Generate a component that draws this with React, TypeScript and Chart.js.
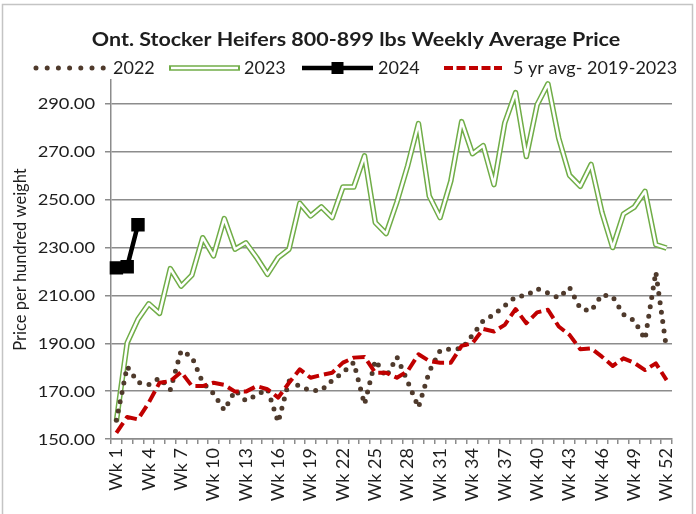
import React, { useEffect, useRef } from 'react';
import { Chart, registerables } from 'chart.js';

Chart.register(...registerables);

const weeks = [
  'Wk 1', 'Wk 2', 'Wk 3', 'Wk 4', 'Wk 5', 'Wk 6', 'Wk 7', 'Wk 8', 'Wk 9', 'Wk 10',
  'Wk 11', 'Wk 12', 'Wk 13', 'Wk 14', 'Wk 15', 'Wk 16', 'Wk 17', 'Wk 18', 'Wk 19', 'Wk 20',
  'Wk 21', 'Wk 22', 'Wk 23', 'Wk 24', 'Wk 25', 'Wk 26', 'Wk 27', 'Wk 28', 'Wk 29', 'Wk 30',
  'Wk 31', 'Wk 32', 'Wk 33', 'Wk 34', 'Wk 35', 'Wk 36', 'Wk 37', 'Wk 38', 'Wk 39', 'Wk 40',
  'Wk 41', 'Wk 42', 'Wk 43', 'Wk 44', 'Wk 45', 'Wk 46', 'Wk 47', 'Wk 48', 'Wk 49', 'Wk 50',
  'Wk 51', 'Wk 52',
];

const prices2022 = [
  157.8, 180.3, 173.6, 172.7, 175.5, 170.6, 186.9, 184.4, 173.6, 169,
  162, 170.3, 166, 168.3, 171, 157, 174.3, 172, 170.2, 170.3,
  174.5, 177.8, 182, 164.5, 182.8, 175.9, 184.3, 174, 163.2, 178.2,
  186.9, 187.7, 187.7, 193.4, 199.4, 202, 205.7, 209.4, 210, 212.8,
  211, 209, 213.3, 204.5, 203.5, 210.3, 209.5, 202, 199.5, 191.6,
  219.8, 187.4,
];

const prices2023 = [
  157.5, 190.2, 200, 206.5, 202.5, 221.2, 213.9, 218.5, 234.1, 226.5,
  242.1, 229.3, 232, 225.8, 218.8, 225.8, 229.3, 248.5, 243.2, 247,
  242.5, 255.3, 255.3, 268.3, 240.4, 235.8, 249, 264.2, 281.8, 251.5,
  242.5, 257.8, 282.6, 269.2, 272.6, 256.3, 282.1, 294.7, 268, 289.7,
  298.4, 275.7, 260.2, 255.6, 264.7, 244.8, 230, 244, 246.9, 253.5,
  231.2, 229.8,
];

const prices2024 = [221.5, 222, 239.5];

const avg5yr = [
  152.6, 159.2, 158.2, 165.2, 173.5, 174.2, 178, 172.1, 172.1, 173.5,
  172.6, 169.8, 169.8, 172.1, 170.8, 167.3, 173.5, 179.1, 175.6, 176.7,
  177.7, 181.9, 184, 184.3, 177.7, 177.7, 175.6, 178.4, 185.4, 182.6,
  181.9, 181.9, 188.9, 190, 196, 194.9, 197.7, 204.3, 198.4, 202.9,
  204, 197, 193.5, 187.5, 187.9, 184.4, 180.5, 183.7, 181.8, 178.8,
  181.6, 174.6,
];

const yTickValues = [150, 170, 190, 210, 230, 250, 270, 290];
const yTickLabels = ['150.00', '170.00', '190.00', '210.00', '230.00', '250.00', '270.00', '290.00'];

const seriesNames = ['2022', '2023', '2024', '5 yr avg- 2019-2023'];
const chartTitle = 'Ont. Stocker Heifers 800-899 lbs Weekly Average Price';
const yAxisTitle = 'Price per hundred weight';
const yMin = 150;
const yMax = 300;

const FONT = 'Lato, "Noto Sans", sans-serif';
const TEXT = '#1e1e1e';
const GRID = '#8c8c8c';
const BROWN = '#4f3a2c';
const GREEN = '#70ad47';
const RED = '#c00000';

const decorPlugin = {
  id: 'decor',
  afterDraw(chart: any) {
    const ctx = chart.ctx as CanvasRenderingContext2D;
    ctx.save();
    // outer border
    ctx.strokeStyle = '#c4c4c4';
    ctx.lineWidth = 1.5;
    ctx.setLineDash([]);
    ctx.strokeRect(2.5, 4.5, 690, 520);

    // y tick labels (slightly wide, as in the reference)
    const ys = chart.scales.y;
    ctx.fillStyle = TEXT;
    ctx.font = `15.5px ${FONT}`;
    ctx.textAlign = 'right';
    ctx.textBaseline = 'middle';
    yTickValues.forEach((v, i) => {
      const py = ys.getPixelForValue(v);
      ctx.save();
      ctx.translate(95, py + 0.5);
      ctx.scale(1.18, 1);
      ctx.fillText(yTickLabels[i], 0, 0);
      ctx.restore();
    });

    // title
    ctx.font = `bold 19px ${FONT}`;
    ctx.textAlign = 'center';
    ctx.save();
    ctx.translate(356, 40);
    ctx.scale(1.13, 1);
    ctx.fillText(chartTitle, 0, 0);
    ctx.restore();

    // legend
    const ly = 68;
    ctx.font = `18px ${FONT}`;
    ctx.textAlign = 'left';
    ctx.lineJoin = 'round';

    // 2022 dotted
    ctx.strokeStyle = BROWN;
    ctx.lineWidth = 5;
    ctx.lineCap = 'round';
    ctx.setLineDash([0, 11.2]);
    ctx.beginPath();
    ctx.moveTo(36, ly);
    ctx.lineTo(104, ly);
    ctx.stroke();
    ctx.setLineDash([]);
    ctx.fillText(seriesNames[0], 113, ly);

    // 2023 double line
    ctx.lineCap = 'butt';
    ctx.strokeStyle = GREEN;
    ctx.lineWidth = 5.5;
    ctx.beginPath();
    ctx.moveTo(169, ly);
    ctx.lineTo(240, ly);
    ctx.stroke();
    ctx.strokeStyle = '#ffffff';
    ctx.lineWidth = 2.5;
    ctx.beginPath();
    ctx.moveTo(171, ly);
    ctx.lineTo(238, ly);
    ctx.stroke();
    ctx.fillText(seriesNames[1], 244, ly);

    // 2024 line with square marker
    ctx.strokeStyle = '#000';
    ctx.lineWidth = 4.5;
    ctx.beginPath();
    ctx.moveTo(302, ly);
    ctx.lineTo(373, ly);
    ctx.stroke();
    ctx.fillStyle = '#000';
    ctx.fillRect(337.5 - 6, ly - 6, 12, 12);
    ctx.fillStyle = TEXT;
    ctx.fillText(seriesNames[2], 378, ly);

    // 5 yr avg dashed
    ctx.strokeStyle = RED;
    ctx.lineWidth = 4;
    ctx.setLineDash([9, 3.5]);
    ctx.beginPath();
    ctx.moveTo(444, ly);
    ctx.lineTo(502, ly);
    ctx.stroke();
    ctx.setLineDash([]);
    ctx.fillText(seriesNames[3], 513, ly);

    ctx.restore();
  },
};

export default function App() {
  const canvasRef = useRef<HTMLCanvasElement | null>(null);

  useEffect(() => {
    const canvas = canvasRef.current;
    if (!canvas) return;
    const chart = new Chart(canvas, {
      type: 'line',
      data: {
        labels: weeks,
        datasets: [
          {
            label: seriesNames[3],
            data: avg5yr,
            borderColor: RED,
            borderWidth: 4,
            borderDash: [12, 5],
            borderCapStyle: 'butt',
            borderJoinStyle: 'round',
            pointRadius: 0,
            tension: 0,
            fill: false,
          },
          {
            label: seriesNames[2],
            data: prices2024,
            borderColor: '#000',
            backgroundColor: '#000',
            borderWidth: 4.5,
            pointStyle: 'rect',
            pointRadius: 9.5,
            pointBorderWidth: 0,
            pointBackgroundColor: '#000',
            tension: 0,
            fill: false,
          },
          {
            label: seriesNames[0],
            data: prices2022,
            borderColor: BROWN,
            borderWidth: 5,
            borderDash: [0, 9.5],
            borderCapStyle: 'round',
            borderJoinStyle: 'round',
            pointRadius: 0,
            tension: 0,
            fill: false,
          },
          {
            label: seriesNames[1] + ' inner',
            data: prices2023,
            borderColor: '#ffffff',
            borderWidth: 2.5,
            borderJoinStyle: 'round',
            pointRadius: 0,
            tension: 0,
            fill: false,
          },
          {
            label: seriesNames[1],
            data: prices2023,
            borderColor: GREEN,
            borderWidth: 5.5,
            borderJoinStyle: 'round',
            pointRadius: 0,
            tension: 0,
            fill: false,
          },
        ],
      },
      options: {
        responsive: false,
        animation: false,
        devicePixelRatio: 1,
        events: [],
        layout: { padding: { left: 8, right: 24, top: 80, bottom: 0 } },
        plugins: {
          legend: { display: false },
          title: { display: false },
          tooltip: { enabled: false },
        },
        scales: {
          x: {
            type: 'category',
            offset: true,
            grid: {
              display: true,
              drawOnChartArea: false,
              drawTicks: true,
              tickLength: 5,
              color: GRID,
              lineWidth: 1.5,
              offset: true,
            },
            border: { display: true, color: GRID, width: 1.5 },
            ticks: {
              autoSkip: false,
              maxRotation: 90,
              minRotation: 90,
              padding: 4,
              color: TEXT,
              font: { family: FONT, size: 18 },
              callback: (_v: any, i: number) => (i % 3 === 0 ? weeks[i] : ''),
            },
            afterFit: (s: any) => {
              s.height = 75;
            },
          },
          y: {
            min: yMin,
            max: yMax,
            afterBuildTicks: (s: any) => {
              s.ticks = yTickValues.map((v) => ({ value: v }));
            },
            ticks: { display: false },
            grid: { color: GRID, lineWidth: 1.5, tickLength: 6, drawTicks: true },
            border: { display: true, color: GRID, width: 1.5 },
            title: {
              display: true,
              text: yAxisTitle,
              color: TEXT,
              font: { family: FONT, size: 16.5 },
              padding: { top: 3, bottom: 0 },
            },
            afterFit: (s: any) => {
              s.width = 103;
            },
          },
        },
      },
      plugins: [decorPlugin],
    });
    return () => chart.destroy();
  }, []);

  return (
    <div style={{ position: 'fixed', left: 0, top: 0, width: 696, height: 514, background: '#fff' }}>
      <canvas ref={canvasRef} width={696} height={514} style={{ display: 'block' }} />
    </div>
  );
}
